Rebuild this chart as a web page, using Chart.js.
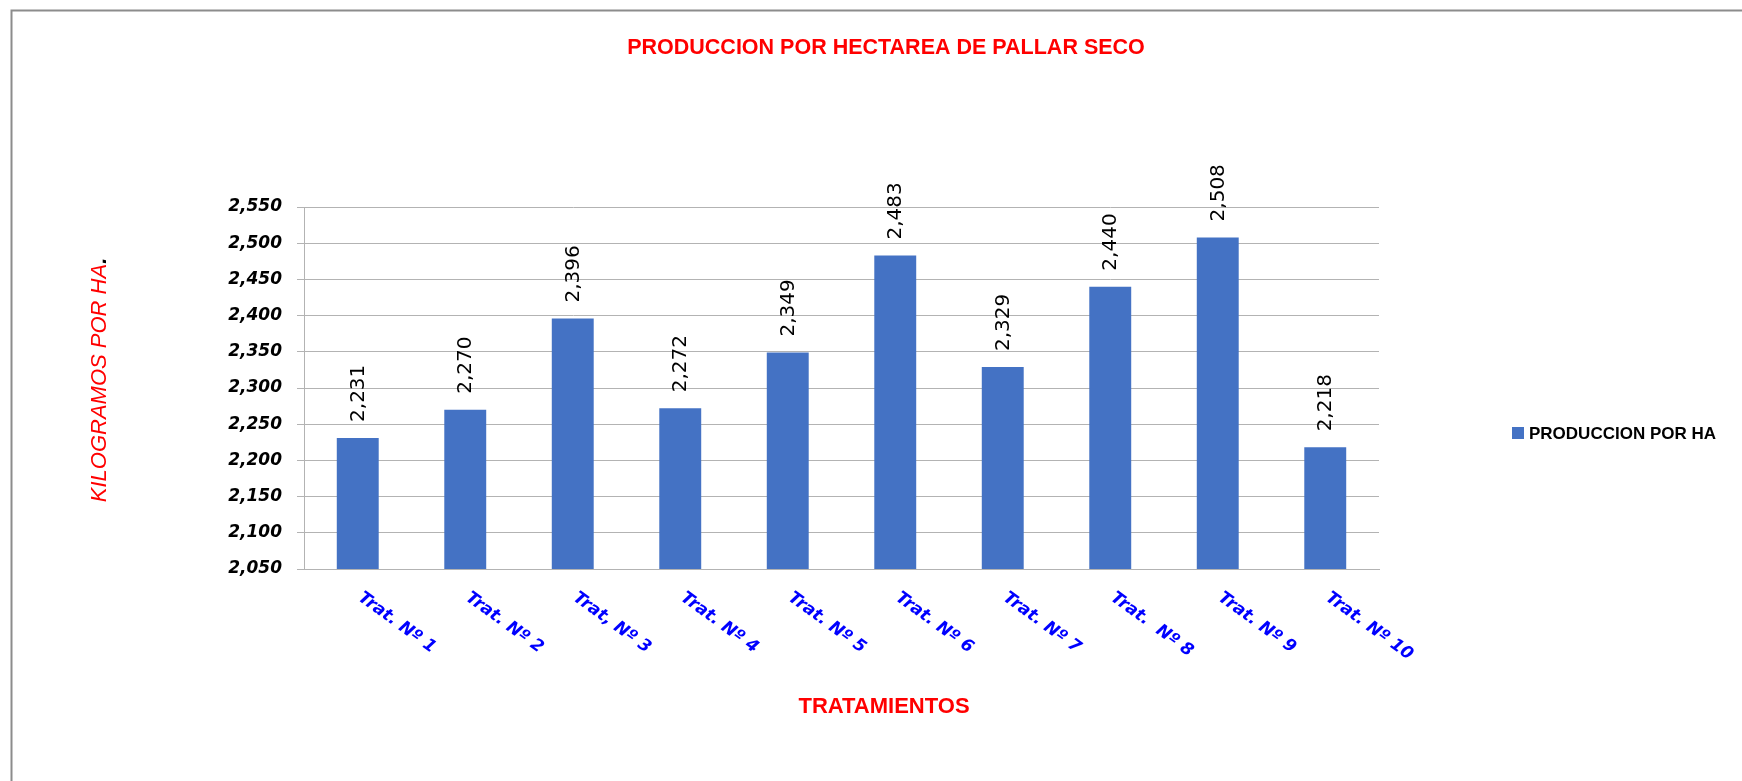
<!DOCTYPE html>
<html>
<head>
<meta charset="utf-8">
<script src="https://cdn.jsdelivr.net/npm/chart.js@4.4.1/dist/chart.umd.min.js"></script>
<style>
html,body{margin:0;padding:0;background:#fff;}
#wrap{position:relative;width:1742px;height:781px;}
</style>
</head>
<body>
<div id="wrap"><canvas id="c" width="1742" height="781"></canvas></div>
<script>
const categories = ["Trat. Nº 1","Trat. Nº 2","Trat, Nº 3","Trat. Nº 4","Trat. Nº 5","Trat. Nº 6","Trat. Nº 7","Trat.  Nº 8","Trat. Nº 9","Trat. Nº 10"];
const produccion = [2231, 2270, 2396, 2272, 2349, 2483, 2329, 2440, 2508, 2218];
const seriesName = "PRODUCCION POR HA";
const chartTitle = "PRODUCCION POR HECTAREA DE PALLAR SECO";
const yTitle = "KILOGRAMOS POR HA";
const xTitle = "TRATAMIENTOS";
const yMin = 2050, yMax = 2550, yStep = 50;

const fmt = v => Math.round(v).toLocaleString('en-US');
const BAR = '#4472C4';

const decor = {
  id: 'decor',
  beforeDraw(chart) {
    const ctx = chart.ctx;
    ctx.save();
    ctx.fillStyle = '#fff';
    ctx.fillRect(0, 0, chart.width, chart.height);
    ctx.strokeStyle = '#8c8c8c';
    ctx.lineWidth = 2;
    ctx.beginPath();
    ctx.moveTo(11.5, chart.height);
    ctx.lineTo(11.5, 10.5);
    ctx.lineTo(chart.width, 10.5);
    ctx.stroke();
    ctx.restore();
  },
  afterDraw(chart) {
    const ctx = chart.ctx;
    const xs = chart.scales.x, ys = chart.scales.y;
    const area = chart.chartArea;
    ctx.save();
    // title
    ctx.fillStyle = '#ff0000';
    ctx.font = 'bold 21.5px "Liberation Sans", Arial, sans-serif';
    ctx.textAlign = 'center';
    ctx.textBaseline = 'middle';
    ctx.fillText(chartTitle, 886, 48);
    // x title
    ctx.font = 'bold 22px "Liberation Sans", Arial, sans-serif';
    ctx.fillText(xTitle, 884, 707);
    // y title (rotated, red text with black period)
    ctx.save();
    ctx.translate(100, 380);
    ctx.rotate(-Math.PI / 2);
    ctx.font = 'italic 22px "Liberation Sans", Arial, sans-serif';
    const w1 = ctx.measureText(yTitle).width;
    ctx.font = 'bold italic 22px "Liberation Sans", Arial, sans-serif';
    const w2 = ctx.measureText('.').width;
    const start = -(w1 + w2) / 2;
    ctx.textAlign = 'left';
    ctx.font = 'italic 22px "Liberation Sans", Arial, sans-serif';
    ctx.fillStyle = '#ff0000';
    ctx.fillText(yTitle, start, 0);
    ctx.font = 'bold italic 22px "Liberation Sans", Arial, sans-serif';
    ctx.fillStyle = '#000';
    ctx.fillText('.', start + w1, 0);
    ctx.restore();
    // x labels rotated clockwise
    const ang = 36 * Math.PI / 180;
    ctx.fillStyle = '#0000ff';
    ctx.font = 'italic bold 17px "DejaVu Sans", Verdana, sans-serif';
    ctx.textAlign = 'left';
    ctx.textBaseline = 'top';
    categories.forEach((lab, i) => {
      const cx = xs.getPixelForValue(i);
      ctx.save();
      ctx.translate(cx + 7, area.bottom + 20);
      ctx.rotate(ang);
      ctx.fillText(lab, 0, 0);
      ctx.restore();
    });
    // data labels (rotated -90)
    ctx.fillStyle = '#000';
    ctx.font = '20px "DejaVu Sans", Verdana, sans-serif';
    ctx.textAlign = 'left';
    ctx.textBaseline = 'middle';
    const meta = chart.getDatasetMeta(0);
    meta.data.forEach((bar, i) => {
      ctx.save();
      ctx.translate(bar.x + 1, ys.getPixelForValue(produccion[i]) - 16);
      ctx.rotate(-Math.PI / 2);
      ctx.fillText(fmt(produccion[i]), 0, 0);
      ctx.restore();
    });
    // legend
    ctx.fillStyle = BAR;
    ctx.fillRect(1512, 427, 12, 12);
    ctx.fillStyle = '#000';
    ctx.font = 'bold 17px "Liberation Sans", Arial, sans-serif';
    ctx.textAlign = 'left';
    ctx.textBaseline = 'middle';
    ctx.fillText(seriesName, 1529, 434);
    ctx.restore();
  }
};

new Chart(document.getElementById('c'), {
  type: 'bar',
  data: {
    labels: categories,
    datasets: [{
      label: seriesName,
      data: produccion,
      backgroundColor: BAR,
      borderWidth: 0,
      barPercentage: 0.39,
      categoryPercentage: 1.0
    }]
  },
  options: {
    responsive: false,
    animation: false,
    devicePixelRatio: 1,
    layout: { padding: { left: 0, right: 363, top: 207, bottom: 212 } },
    plugins: { legend: { display: false }, title: { display: false }, tooltip: { enabled: false } },
    scales: {
      x: {
        grid: { display: false, drawTicks: false },
        border: { display: true, color: '#b3b3b3', width: 1 },
        ticks: { display: false },
        afterFit: s => { s.height = 0; }
      },
      y: {
        min: yMin, max: yMax,
        grid: { color: '#b3b3b3', lineWidth: 1, tickLength: 7, drawTicks: true },
        border: { display: true, color: '#b3b3b3', width: 1 },
        ticks: {
          stepSize: yStep,
          padding: 15,
          color: '#000',
          font: { family: '"DejaVu Sans", Verdana, sans-serif', size: 17, style: 'italic', weight: 'bold' },
          callback: v => fmt(v)
        },
        afterFit: s => { s.width = 304; }
      }
    }
  },
  plugins: [decor]
});
</script>
</body>
</html>
